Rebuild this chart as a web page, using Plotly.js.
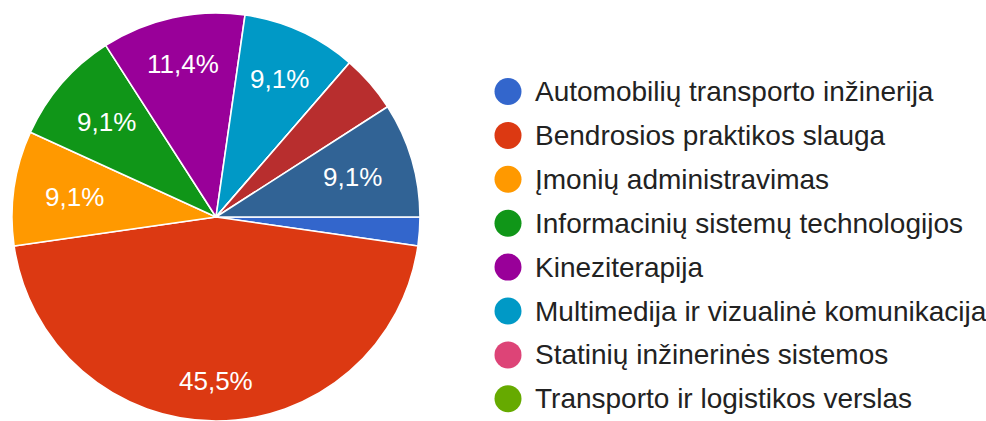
<!DOCTYPE html>
<html><head><meta charset="utf-8">
<script src="https://cdn.plot.ly/plotly-3.0.1.min.js"></script>
<style>html,body{margin:0;padding:0;background:#fff;} #chart{width:986px;height:421px;}</style>
</head><body><div id="chart"></div>
<script>
// Categories (the legend in the source only shows its first page of 8 entries)
const labels = [
  "Automobilių transporto inžinerija",
  "Bendrosios praktikos slauga",
  "Įmonių administravimas",
  "Informacinių sistemų technologijos",
  "Kineziterapija",
  "Multimedija ir vizualinė komunikacija",
  "Statinių inžinerinės sistemos",
  "Transporto ir logistikos verslas",
  "Kita programa (9)",
  "Kita programa (10)"
];
// Respondent counts (44 in total)
const values = [1, 20, 4, 4, 5, 4, 0, 0, 2, 4];
const colors = ["#3366cc","#dc3912","#ff9900","#109618","#990099","#0099c6","#dd4477","#66aa00","#b82e2e","#316395"];
const legendLabels = labels.slice(0, 8);

const W = 986, H = 421;
const cx = 216, cy = 217, r = 204;          // pie geometry in pixels
const FONT = '"Liberation Sans", Arial, sans-serif';
const pctSize = 26, legSize = 28;

const total = values.reduce((a, b) => a + b, 0);

const trace = {
  type: 'pie',
  labels: labels,
  values: values,
  sort: false,
  direction: 'clockwise',
  rotation: 90,
  marker: {colors: colors, line: {color: '#ffffff', width: 1.6}},
  textinfo: 'none',
  hoverinfo: 'label+value+percent',
  showlegend: false,
  domain: {x: [(cx - r) / W, (cx + r) / W], y: [(H - cy - r) / H, (H - cy + r) / H]}
};

// measure text widths
const ctx = document.createElement('canvas').getContext('2d');
ctx.font = pctSize + 'px ' + FONT;

const annotations = [];
let cum = 0;
values.forEach((v, i) => {
  const share = v / total;
  const midDeg = 90 + (cum + v / 2) / total * 360;
  cum += v;
  if (share < 0.05) return;
  const txt = (share * 100).toFixed(1).replace('.', ',') + '%';
  const a = midDeg * Math.PI / 180;
  const dx = Math.sin(a), dy = -Math.cos(a);
  const hw = ctx.measureText(txt).width / 2, hh = pctSize * 0.38;
  const R = 0.85 * r - (hw * Math.abs(dx) + hh * Math.abs(dy));
  const px = cx + R * dx, py = cy + R * dy;
  annotations.push({
    x: px / W, y: 1 - py / H, xref: 'paper', yref: 'paper',
    xanchor: 'center', yanchor: 'middle', showarrow: false,
    text: txt, font: {family: FONT, size: pctSize, color: '#ffffff'}
  });
});

// Legend (first page)
const shapes = [];
const legX = 508, legR = 13.5, legTextX = 533, legY0 = 91.5, legStep = 43.9;
legendLabels.forEach((lab, i) => {
  const y = legY0 + i * legStep;
  shapes.push({
    type: 'circle', xref: 'paper', yref: 'paper',
    x0: (legX - legR) / W, x1: (legX + legR) / W,
    y0: 1 - (y + legR) / H, y1: 1 - (y - legR) / H,
    fillcolor: colors[i], line: {width: 0}
  });
  annotations.push({
    x: legTextX / W, y: 1 - y / H, xref: 'paper', yref: 'paper',
    xanchor: 'left', yanchor: 'middle', showarrow: false,
    text: lab, font: {family: FONT, size: legSize, color: '#222222'}
  });
});

const layout = {
  width: W, height: H,
  margin: {l: 0, r: 0, t: 0, b: 0},
  paper_bgcolor: '#ffffff',
  showlegend: false,
  separators: ', ',
  annotations: annotations,
  shapes: shapes
};

Plotly.newPlot('chart', [trace], layout, {displayModeBar: false, staticPlot: true});
</script>
</body></html>
